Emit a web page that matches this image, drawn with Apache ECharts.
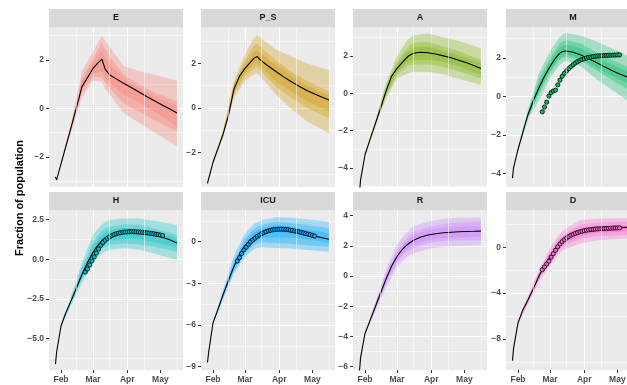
<!DOCTYPE html>
<html>
<head>
<meta charset="utf-8">
<title>Fraction of population</title>
<script src="https://cdn.jsdelivr.net/npm/echarts/dist/echarts.min.js"></script>
<style>
  html, body { margin: 0; padding: 0; background: #ffffff; }
  #chart { width: 627px; height: 385px; }
</style>
</head>
<body>
<div id="chart"></div>
<script>
// ---- data ----
var dates = ['2020-01-27','2020-01-28','2020-02-01','2020-02-05','2020-02-10','2020-02-15','2020-02-20',
  '2020-02-25','2020-03-01','2020-03-05','2020-03-09','2020-03-12','2020-03-16','2020-03-22','2020-03-29',
  '2020-04-05','2020-04-12','2020-04-19','2020-04-26','2020-05-03','2020-05-10','2020-05-16'];

var medE   = [-2.82,-2.95,-2.29,-1.63,-0.80,0.03,0.90,1.28,1.65,1.86,2.03,1.62,1.39,1.22,1.03,0.85,0.67,0.48,0.31,0.13,-0.03,-0.19];
var medPS  = [-3.4,-3.2,-2.45,-1.9,-1.2,-0.35,0.85,1.42,1.77,2.0,2.22,2.3,2.1,1.88,1.63,1.39,1.17,0.97,0.78,0.62,0.47,0.35];
var medA   = [-5.3,-4.65,-3.3,-2.58,-1.7,-0.82,0.1,0.9,1.33,1.6,1.86,2.02,2.14,2.2,2.17,2.1,2.0,1.9,1.77,1.63,1.47,1.32];
var medM   = [-4.25,-3.7,-2.75,-1.95,-0.95,-0.2,0.45,1.05,1.55,1.92,2.2,2.33,2.36,2.3,2.15,1.96,1.76,1.55,1.35,1.17,1.01,0.87];
var medH   = [-6.6,-5.85,-4.2,-3.42,-2.63,-1.8,-0.95,-0.2,0.44,0.85,1.19,1.35,1.5,1.64,1.72,1.74,1.71,1.63,1.52,1.4,1.22,1.03];
var medICU = [-8.7,-8.0,-5.85,-4.98,-3.85,-2.8,-1.78,-0.95,-0.3,0.08,0.33,0.48,0.63,0.78,0.88,0.88,0.8,0.7,0.55,0.4,0.28,0.17];
var medR   = [-6.3,-5.4,-3.8,-3.05,-2.1,-1.15,-0.2,0.65,1.3,1.7,2.0,2.18,2.38,2.57,2.72,2.81,2.87,2.91,2.94,2.96,2.97,2.98];
var medD   = [-9.9,-8.8,-6.6,-5.55,-4.6,-3.6,-2.5,-1.6,-0.82,-0.25,0.25,0.5,0.76,1.08,1.33,1.49,1.58,1.65,1.7,1.73,1.75,1.77];

// credible bands (outer / middle / inner)
var bandDates = ['2020-02-01','2020-02-10','2020-02-20','2020-03-01','2020-03-09','2020-03-12','2020-03-16',
  '2020-03-29','2020-04-12','2020-04-26','2020-05-16'];

var bandE = {
  outerHi: [-2.24,-0.6,1.55,2.35,3.0,2.79,2.55,1.75,1.55,1.38,1.15],
  outerLo: [-2.34,-1.0,0.45,1.15,1.1,0.8,0.6,-0.2,-0.6,-1.0,-1.55],
  midHi:   [-2.26,-0.7,1.28,2.05,2.72,2.45,2.15,1.38,1.0,0.65,0.3],
  midLo:   [-2.32,-0.9,0.66,1.3,1.3,1.05,0.85,0.2,-0.15,-0.5,-0.95],
  innerHi: [-2.27,-0.75,1.14,1.9,2.38,2.1,1.85,1.22,0.85,0.5,0.1],
  innerLo: [-2.31,-0.85,0.8,1.45,1.5,1.25,1.05,0.57,0.25,-0.15,-0.75]
};
var bandPS = {
  outerHi: [-2.4,-1.05,1.25,2.4,3.15,3.25,3.1,2.62,2.3,2.0,1.69],
  outerLo: [-2.5,-1.35,0.45,1.2,1.5,1.55,1.35,0.6,-0.05,-0.6,-1.15],
  midHi:   [-2.42,-1.1,1.1,2.15,2.78,2.88,2.7,2.12,1.62,1.2,0.72],
  midLo:   [-2.48,-1.3,0.6,1.4,1.78,1.84,1.62,0.95,0.45,0.0,-0.48],
  innerHi: [-2.43,-1.15,1.0,2.0,2.5,2.58,2.42,1.95,1.45,1.0,0.55],
  innerLo: [-2.47,-1.25,0.72,1.55,1.98,2.05,1.82,1.18,0.72,0.3,-0.15]
};
var bandA = {
  outerHi: [-3.25,-1.55,0.55,2.0,2.75,2.95,3.1,3.2,3.0,2.8,2.41],
  outerLo: [-3.35,-1.85,-0.3,0.8,1.0,1.1,1.15,1.15,1.0,0.78,0.44],
  midHi:   [-3.27,-1.6,0.38,1.7,2.35,2.55,2.7,2.75,2.5,2.25,1.78],
  midLo:   [-3.33,-1.8,-0.15,1.0,1.4,1.5,1.52,1.55,1.4,1.18,0.8],
  innerHi: [-3.28,-1.65,0.25,1.55,2.15,2.3,2.45,2.5,2.28,2.02,1.6],
  innerLo: [-3.32,-1.75,-0.05,1.12,1.6,1.7,1.78,1.8,1.67,1.45,0.98]
};
var bandM = {
  outerHi: [-2.65,-0.7,1.2,2.35,3.05,3.2,3.3,3.15,2.85,2.5,1.95],
  outerLo: [-2.85,-1.2,-0.2,0.95,1.6,1.75,1.85,1.55,0.9,0.35,-0.45],
  midHi:   [-2.7,-0.8,0.95,2.0,2.7,2.85,2.92,2.75,2.3,1.9,1.42],
  midLo:   [-2.8,-1.1,0.1,1.2,1.85,1.98,2.05,1.85,1.35,0.85,0.2],
  innerHi: [-2.72,-0.85,0.75,1.8,2.5,2.62,2.68,2.5,2.05,1.65,1.18],
  innerLo: [-2.78,-1.05,0.25,1.35,1.98,2.1,2.18,1.95,1.5,1.05,0.55]
};
var bandH = {
  outerHi: [-4.1,-2.35,-0.2,1.55,2.2,2.35,2.48,2.58,2.58,2.42,2.16],
  outerLo: [-4.3,-2.9,-1.5,-0.2,0.4,0.5,0.6,0.7,0.62,0.35,-0.04],
  midHi:   [-4.14,-2.45,-0.5,1.1,1.8,1.95,2.05,2.2,2.18,1.95,1.53],
  midLo:   [-4.26,-2.8,-1.25,0.05,0.7,0.8,0.92,1.0,0.95,0.8,0.48],
  innerHi: [-4.16,-2.52,-0.7,0.85,1.55,1.7,1.85,1.98,1.95,1.75,1.32],
  innerLo: [-4.24,-2.72,-1.12,0.2,0.9,1.05,1.18,1.3,1.25,1.08,0.76]
};
var bandICU = {
  outerHi: [-5.75,-3.5,-1.0,0.6,1.25,1.4,1.55,1.75,1.72,1.62,1.44],
  outerLo: [-5.95,-4.2,-2.3,-1.1,-0.55,-0.45,-0.4,-0.45,-0.5,-0.6,-0.72],
  midHi:   [-5.8,-3.65,-1.35,0.25,0.9,1.05,1.2,1.44,1.35,1.2,0.96],
  midLo:   [-5.9,-4.05,-2.1,-0.8,-0.25,-0.15,-0.05,-0.1,-0.15,-0.25,-0.36],
  innerHi: [-5.82,-3.75,-1.55,0.05,0.68,0.8,0.95,1.2,1.08,0.88,0.6],
  innerLo: [-5.88,-3.95,-1.98,-0.6,-0.02,0.1,0.25,0.3,0.3,0.15,-0.07]
};
var bandR = {
  outerHi: [-3.7,-1.8,0.45,2.1,2.85,3.05,3.3,3.6,3.8,3.87,3.89],
  outerLo: [-3.9,-2.4,-0.8,0.6,1.2,1.35,1.5,1.8,1.95,2.0,2.05],
  midHi:   [-3.75,-1.9,0.15,1.75,2.45,2.65,2.95,3.25,3.45,3.55,3.6],
  midLo:   [-3.85,-2.3,-0.5,0.9,1.55,1.7,1.85,2.2,2.32,2.36,2.38],
  innerHi: [-3.77,-2.0,0.0,1.55,2.25,2.45,2.75,3.05,3.22,3.28,3.31],
  innerLo: [-3.83,-2.2,-0.35,1.05,1.72,1.88,2.05,2.4,2.52,2.58,2.6]
};
var bandD = {
  outerHi: [-6.45,-4.25,-2.0,0.0,1.1,1.4,1.7,2.4,2.5,2.55,2.56],
  outerLo: [-6.75,-4.95,-3.0,-1.6,-0.55,-0.3,-0.1,0.35,0.6,0.72,0.8],
  midHi:   [-6.5,-4.4,-2.2,-0.35,0.75,1.0,1.3,2.05,2.15,2.22,2.26],
  midLo:   [-6.7,-4.8,-2.8,-1.3,-0.25,0.0,0.25,0.75,0.98,1.05,1.1],
  innerHi: [-6.55,-4.5,-2.35,-0.55,0.5,0.75,1.02,1.75,1.85,1.92,1.97],
  innerLo: [-6.65,-4.7,-2.65,-1.08,0.0,0.25,0.5,1.0,1.25,1.35,1.4]
};

// observed data points
var obsDates = ['2020-02-23','2020-02-25','2020-02-27','2020-02-29','2020-03-02','2020-03-04','2020-03-06',
  '2020-03-08','2020-03-10','2020-03-12','2020-03-14','2020-03-16','2020-03-18','2020-03-20','2020-03-22',
  '2020-03-24','2020-03-26','2020-03-28','2020-03-30','2020-04-01','2020-04-03','2020-04-05','2020-04-07',
  '2020-04-09','2020-04-11','2020-04-13','2020-04-15','2020-04-17','2020-04-19','2020-04-21','2020-04-23',
  '2020-04-25','2020-04-27','2020-04-29','2020-05-01','2020-05-03'];
var obsM   = [-0.8,-0.55,-0.3,0.02,0.2,0.28,0.33,0.6,0.85,1.05,1.2,1.33,1.45,1.55,1.65,1.74,1.81,1.87,1.92,
  1.96,2.0,2.03,2.05,2.07,2.09,2.1,2.11,2.12,2.13,2.13,2.14,2.14,2.15,2.15,2.16,2.16];
var obsH   = [-0.8,-0.6,-0.35,-0.1,0.15,0.4,0.65,0.88,1.05,1.2,1.32,1.42,1.5,1.56,1.61,1.65,1.68,1.71,1.72,
  1.73,1.74,1.74,1.74,1.73,1.72,1.71,1.7,1.68,1.67,1.65,1.63,1.61,1.58,1.56,1.53,1.5];
var obsICU = [-1.4,-1.15,-0.85,-0.6,-0.4,-0.2,-0.02,0.12,0.25,0.38,0.48,0.57,0.65,0.72,0.77,0.81,0.85,0.87,
  0.89,0.9,0.9,0.89,0.88,0.86,0.83,0.8,0.77,0.73,0.7,0.66,0.62,0.58,0.54,0.5,0.45,0.41];
var obsD   = [-1.95,-1.7,-1.45,-1.2,-0.85,-0.55,-0.25,0.05,0.3,0.5,0.67,0.82,0.95,1.06,1.15,1.23,1.3,1.36,
  1.41,1.46,1.5,1.53,1.56,1.58,1.6,1.62,1.63,1.64,1.65,1.66,1.67,1.68,1.69,1.7,1.7,1.71];

// axis ticks
var monthTicks = ['2020-02-01','2020-03-01','2020-04-01','2020-05-01'];
var monthLabels = ['Feb','Mar','Apr','May'];
var monthMinor = ['2020-02-15','2020-03-16','2020-04-16','2020-05-16'];
var ticksE = [-2,0,2], ticksPS = [-2,0,2], ticksA = [-4,-2,0,2], ticksM = [-4,-2,0,2];
var ticksH = [-5,-2.5,0,2.5], ticksICU = [-9,-6,-3,0], ticksR = [-6,-4,-2,0,2,4], ticksD = [-8,-4,0];

// ---- panels ----
var panels = [
  {name:'E',   color:'#F8766D', med:medE,   band:bandE,   obs:null,   ticks:ticksE,   step:2,   min:-3.24, max:3.36},
  {name:'P_S', color:'#CD9600', med:medPS,  band:bandPS,  obs:null,   ticks:ticksPS,  step:2,   min:-3.56, max:3.63},
  {name:'A',   color:'#7CAE00', med:medA,   band:bandA,   obs:null,   ticks:ticksA,   step:2,   min:-5.03, max:3.55},
  {name:'M',   color:'#00BE67', med:medM,   band:bandM,   obs:obsM,   ticks:ticksM,   step:2,   min:-4.71, max:3.61},
  {name:'H',   color:'#00BFC4', med:medH,   band:bandH,   obs:obsH,   ticks:ticksH,   step:2.5, min:-6.97, max:3.11, dec:1},
  {name:'ICU', color:'#00A9FF', med:medICU, band:bandICU, obs:obsICU, ticks:ticksICU, step:3,   min:-9.24, max:2.28},
  {name:'R',   color:'#C77CFF', med:medR,   band:bandR,   obs:null,   ticks:ticksR,   step:2,   min:-6.22, max:4.38},
  {name:'D',   color:'#FF61CC', med:medD,   band:bandD,   obs:obsD,   ticks:ticksD,   step:4,   min:-10.72, max:3.27}
];

function ts(s) {
  var p = s.split('-');
  return new Date(+p[0], +p[1] - 1, +p[2]).getTime();
}
var xMin = new Date(2020, 0, 21, 3).getTime();
var xMax = new Date(2020, 4, 21, 12).getTime();
var monthTickTs = monthTicks.map(ts);

var colLeft = [49, 201, 353, 506];
var rowTop = [27, 210];
var panelW = 134, panelH = 160, stripH = 18;
var FONT = 'Liberation Sans, Arial, sans-serif';

// one ribbon polygon per band level, built from all rows of the series
function ribbon(color) {
  return function (params, api) {
    if (params.dataIndexInside !== 0) return null;
    var n = params.dataInsideLength, upper = [], lower = [];
    for (var j = 0; j < n; j++) {
      upper.push(api.coord([api.value(0, j), api.value(2, j)]));
      lower.unshift(api.coord([api.value(0, j), api.value(1, j)]));
    }
    return {
      type: 'polygon', silent: true,
      shape: {points: upper.concat(lower)},
      style: {fill: color, opacity: 0.3}
    };
  };
}

var grids = [], xAxes = [], yAxes = [], series = [], graphics = [];

panels.forEach(function (p, i) {
  var col = i % 4, row = Math.floor(i / 4);
  var left = colLeft[col], top = rowTop[row];
  grids.push({
    left: left, top: top, width: panelW, height: panelH,
    show: true, backgroundColor: '#EBEBEB', borderWidth: 0,
    containLabel: false, outerBoundsMode: 'none'
  });
  var bottomRow = row === 1;
  // dates on a plain value axis (ms), month ticks placed explicitly
  xAxes.push({
    type: 'value', gridIndex: i, min: xMin, max: xMax,
    axisLine: {show: false, onZero: false},
    axisTick: {show: bottomRow, length: 3, lineStyle: {color: '#333333', width: 1}, customValues: monthTickTs},
    axisLabel: {
      show: bottomRow, customValues: monthTickTs, fontSize: 8.5, color: '#4D4D4D', fontFamily: FONT,
      margin: 5, fontWeight: 'bold',
      formatter: function (v) { var k = monthTickTs.indexOf(v); return k >= 0 ? monthLabels[k] : ''; }
    },
    splitLine: {show: true, showMinLine: false, showMaxLine: false, lineStyle: {color: '#FFFFFF', width: 1.1}}
  });
  yAxes.push({
    type: 'value', gridIndex: i, min: p.min, max: p.max,
    minInterval: p.step, maxInterval: p.step,
    axisLine: {show: false, onZero: false},
    axisTick: {show: true, length: 3, lineStyle: {color: '#333333', width: 1}, customValues: p.ticks},
    axisLabel: {
      customValues: p.ticks, fontSize: 8.5, color: '#4D4D4D', fontFamily: FONT, margin: 5, fontWeight: 'bold',
      formatter: function (v) {
        var s = p.dec ? v.toFixed(1) : String(v);
        return s.replace('-', '\u2212');
      }
    },
    splitLine: {show: true, showMinLine: false, showMaxLine: false, lineStyle: {color: '#FFFFFF', width: 1.1}},
    minorTick: {show: false, splitNumber: 2},
    minorSplitLine: {show: true, lineStyle: {color: '#FFFFFF', width: 0.55}}
  });

  // minor vertical grid lines (mid-month)
  series.push({
    type: 'line', xAxisIndex: i, yAxisIndex: i, data: [], silent: true, z: 1,
    markLine: {
      silent: true, symbol: 'none', animation: false, label: {show: false},
      lineStyle: {color: '#FFFFFF', width: 0.55, type: 'solid'},
      data: monthMinor.map(function (d) { return {xAxis: ts(d)}; })
    }
  });

  // bands: outer, middle, inner
  [['outerLo', 'outerHi'], ['midLo', 'midHi'], ['innerLo', 'innerHi']].forEach(function (pair) {
    var lo = p.band[pair[0]], hi = p.band[pair[1]];
    series.push({
      type: 'custom', xAxisIndex: i, yAxisIndex: i, silent: true, z: 2,
      renderItem: ribbon(p.color),
      encode: {x: 0, y: [1, 2]},
      data: bandDates.map(function (d, j) { return [ts(d), lo[j], hi[j]]; })
    });
  });

  series.push({
    type: 'line', xAxisIndex: i, yAxisIndex: i, symbol: 'none', silent: true, z: 3,
    lineStyle: {color: '#000000', width: 1.1},
    data: dates.map(function (d, j) { return [ts(d), p.med[j]]; })
  });

  if (p.obs) {
    series.push({
      type: 'scatter', xAxisIndex: i, yAxisIndex: i, silent: true, z: 4,
      symbol: 'circle', symbolSize: 4.2,
      itemStyle: {color: p.color, borderColor: '#000000', borderWidth: 0.8, opacity: 1},
      data: obsDates.map(function (d, j) { return [ts(d), p.obs[j]]; })
    });
  }

  // facet strip
  var stripTop = top - stripH;
  graphics.push({
    type: 'rect', silent: true, z: 10,
    shape: {x: left, y: stripTop, width: panelW, height: stripH},
    style: {fill: '#D9D9D9'}
  });
  graphics.push({
    type: 'text', silent: true, z: 11, x: left + panelW / 2, y: stripTop + stripH / 2,
    style: {text: p.name, fill: '#1A1A1A', font: 'bold 9px ' + FONT,
      align: 'center', verticalAlign: 'middle', textAlign: 'center', textVerticalAlign: 'middle'}
  });
});

graphics.push({
  type: 'text', silent: true, z: 11, x: 20, y: 198, rotation: Math.PI / 2,
  style: {text: 'Fraction of population', fill: '#000000', font: 'bold 11px ' + FONT,
    align: 'center', verticalAlign: 'middle', textAlign: 'center', textVerticalAlign: 'middle'}
});

var chart = echarts.init(document.getElementById('chart'), null, {renderer: 'canvas'});
chart.setOption({
  animation: false,
  backgroundColor: '#FFFFFF',
  grid: grids,
  xAxis: xAxes,
  yAxis: yAxes,
  series: series,
  graphic: graphics
});
</script>
</body>
</html>
